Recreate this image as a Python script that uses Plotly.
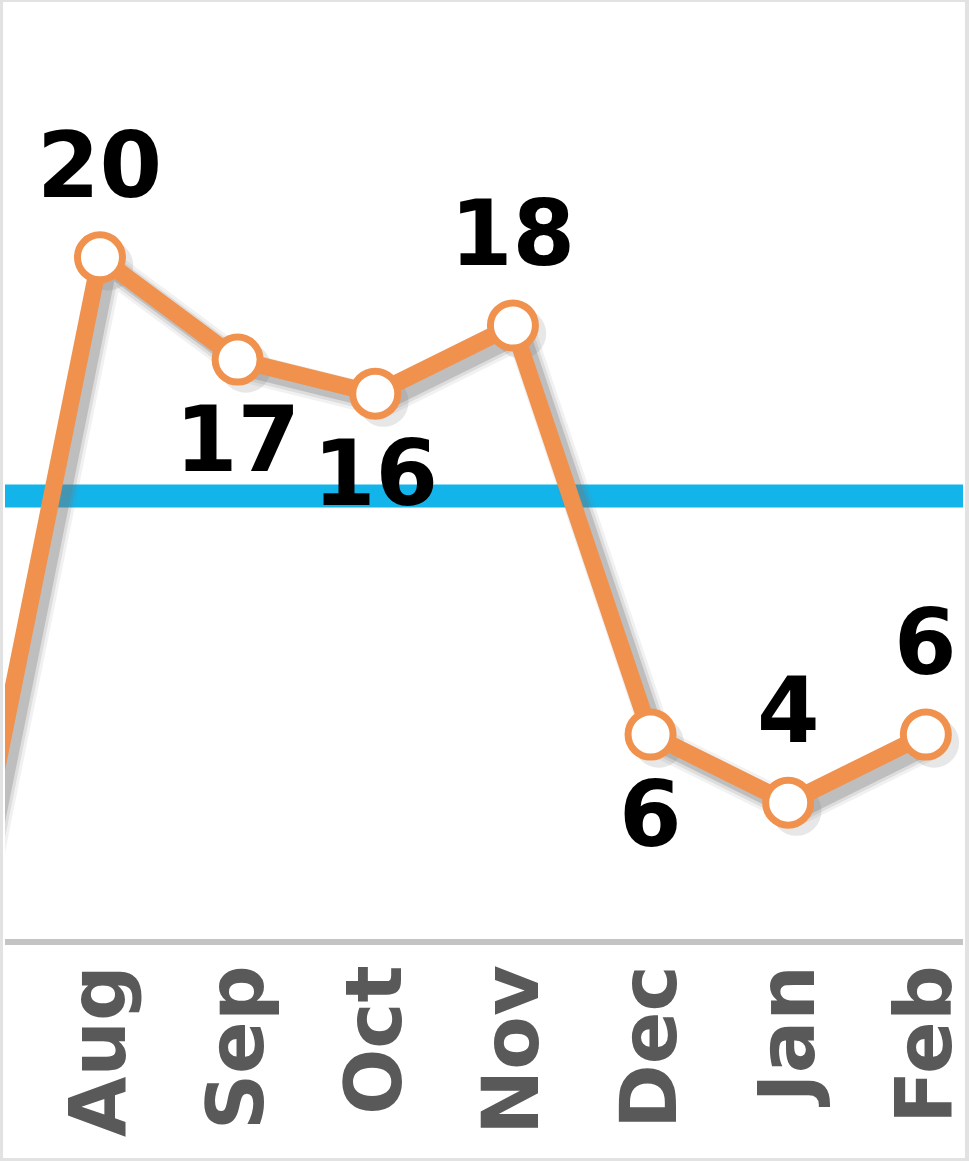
import plotly.graph_objects as go

# ---- data ----
months = ["Jul", "Aug", "Sep", "Oct", "Nov", "Dec", "Jan", "Feb"]
values = [0, 20, 17, 16, 18, 6, 4, 6]
label_side = [None, "above", "below", "below", "above", "below", "above", "above"]
target = 13

xs = list(range(len(months)))

ORANGE = "#F0924E"
BLUE = "#13B4EA"

fig = go.Figure()

# soft drop shadow under the line
sdx, sdy = 0.06, -0.24
for w, a in [(30, 0.10), (24, 0.16), (18, 0.30)]:
    fig.add_trace(go.Scatter(
        x=[v + sdx for v in xs], y=[v + sdy for v in values], mode="lines",
        line=dict(color=f"rgba(120,120,120,{a})", width=w),
        hoverinfo="skip", showlegend=False))
fig.add_trace(go.Scatter(
    x=[v + sdx for v in xs], y=[v + sdy for v in values], mode="markers",
    marker=dict(size=50, color="rgba(120,120,120,0.18)", line=dict(width=0)),
    hoverinfo="skip", showlegend=False))

# main series
fig.add_trace(go.Scatter(
    x=xs, y=values, mode="lines+markers",
    line=dict(color=ORANGE, width=17),
    marker=dict(size=45, color="white", line=dict(color=ORANGE, width=7)),
    showlegend=False))

# target line
fig.add_shape(type="line", xref="paper", yref="y", x0=0, x1=1, y0=target, y1=target,
              line=dict(color=BLUE, width=23), layer="below")

# data labels
for x, v, side in zip(xs, values, label_side):
    if side is None:
        continue
    fig.add_annotation(x=x, y=v, xref="x", yref="y", text=str(v), showarrow=False,
                       yanchor="middle", yshift=92 if side == "above" else -80,
                       font=dict(family="DejaVu Sans", size=90, color="black", weight="bold"))

# outer frame
fig.add_shape(type="rect", xref="paper", yref="paper",
              x0=-4/958, x1=1+4/958, y0=-221/939, y1=1,
              line=dict(color="#E2E2E2", width=4), fillcolor="rgba(0,0,0,0)")

fig.update_layout(
    width=969, height=1161,
    margin=dict(l=5, r=6, t=0, b=222),
    paper_bgcolor="white", plot_bgcolor="white",
    xaxis=dict(range=[0.31, 7.27], tickmode="array", tickvals=xs, ticktext=months,
               tickangle=-90, showgrid=False, zeroline=False,
               showline=True, linecolor="#C4C4C4", linewidth=6, ticks="",
               ticklabelstandoff=-11, ticklabeloverflow="allow",
               tickfont=dict(family="DejaVu Sans", size=78, color="#595959", weight="bold")),
    yaxis=dict(range=[0, 27.55], showgrid=False, zeroline=False, showticklabels=False,
               showline=False),
)

fig.write_html("out.html", config={"displayModeBar": False},
               post_script="document.body.style.margin='0';")
